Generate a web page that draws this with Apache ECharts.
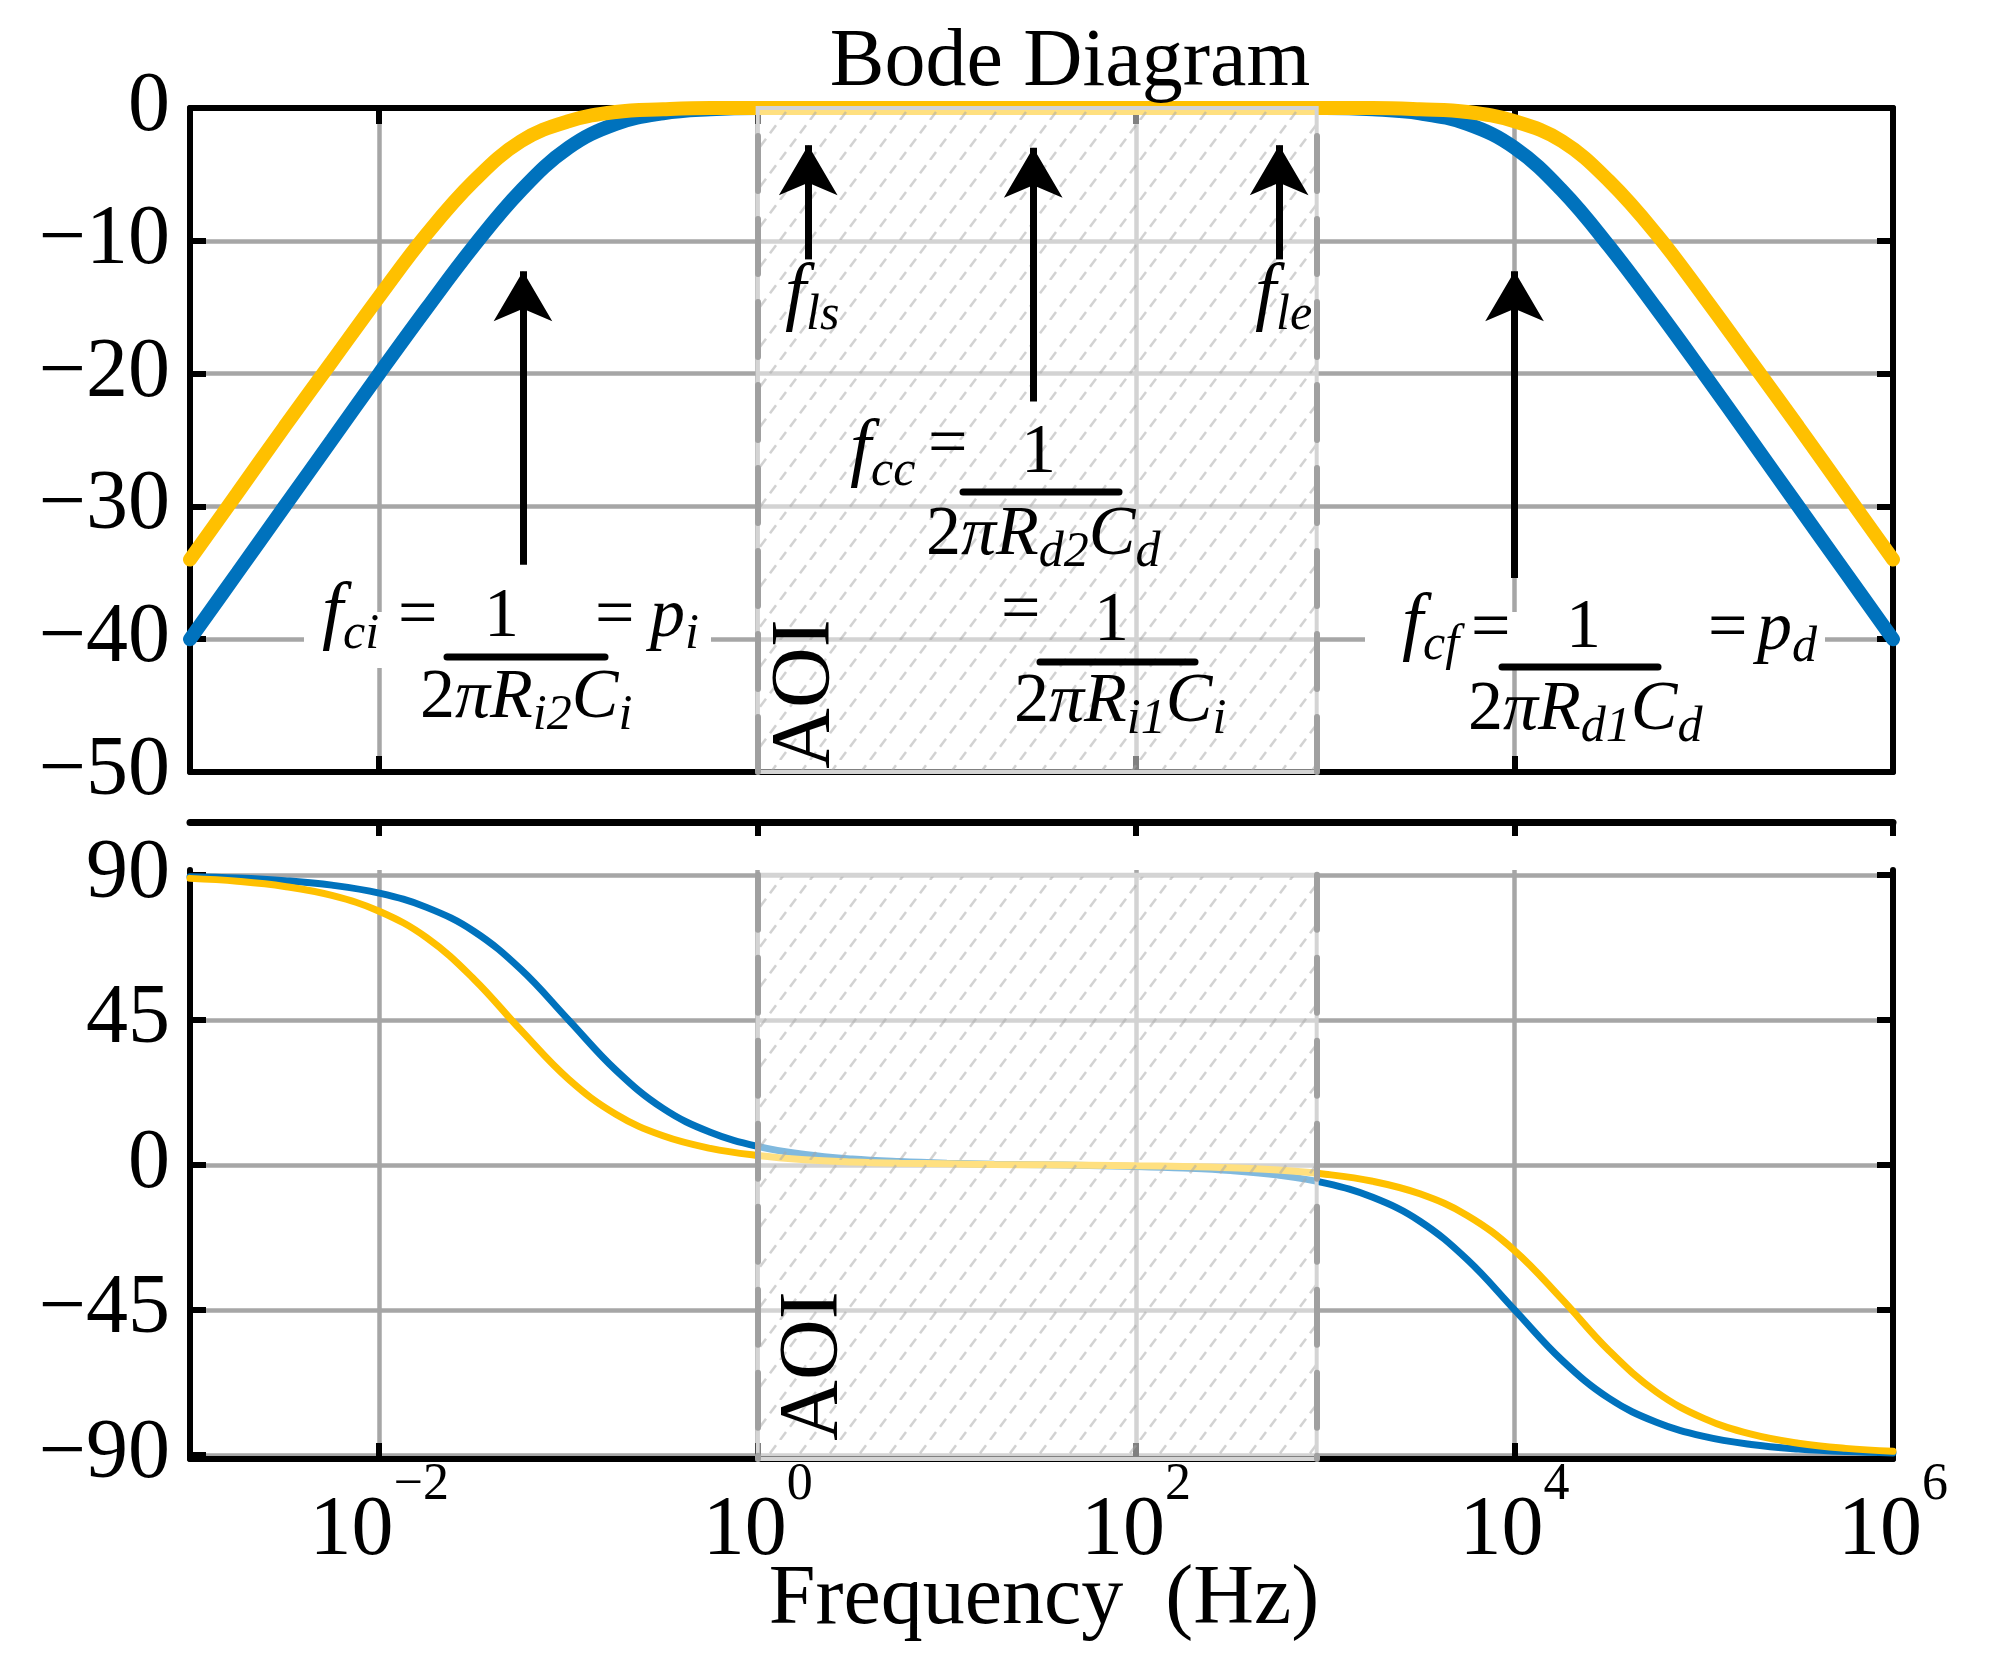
<!DOCTYPE html>
<html lang="en">
<head>
<meta charset="utf-8">
<title>Bode Diagram</title>
<script src="https://cdn.jsdelivr.net/npm/echarts@6/dist/echarts.min.js"></script>
</head>
<body style="margin:0;background:#fff;">
<div id="main" style="width:1999px;height:1676px;"></div>
<script type="text/javascript">
// frequency samples in Hz, a quarter decade apart
const freq = [0.001, 0.00178, 0.00316, 0.00562, 0.01, 0.0178, 0.0316, 0.0562, 0.1, 0.178, 0.316, 0.562,
    1, 1.78, 3.16, 5.62, 10, 17.8, 31.6, 56.2, 100, 178, 316, 562, 1000, 1780, 3160, 5620,
    10000, 17800, 31600, 56200, 100000, 178000, 316000, 562000, 1000000];
// magnitude (dB)
const magBlue = [-40.0, -35.0, -30.0, -25.0, -20.0, -15.1, -10.4, -6.2, -3.0, -1.2, -0.4, -0.1,
    0, 0, 0, 0, 0, 0, 0, 0, 0, 0, 0, 0, 0,
    -0.1, -0.4, -1.2, -3.0, -6.2, -10.4, -15.1, -20.0, -25.0, -30.0, -35.0, -40.0];
const magYellow = [-34.0, -29.0, -24.0, -19.1, -14.2, -9.5, -5.5, -2.5, -1.0, -0.3, -0.1,
    0, 0, 0, 0, 0, 0, 0, 0, 0, 0, 0, 0, 0, 0, 0,
    -0.1, -0.3, -1.0, -2.5, -5.5, -9.5, -14.2, -19.1, -24.0, -29.0, -34.0];
// phase (deg)
const phaseBlue = [89.4, 89.0, 88.2, 86.8, 84.3, 79.9, 72.5, 60.6, 45.0, 29.4, 17.5, 10.1,
    5.7, 3.2, 1.8, 1.0, 0.5, 0.2, 0.0, -0.2, -0.5, -1.0, -1.8, -3.2, -5.7,
    -10.1, -17.5, -29.4, -45.0, -60.6, -72.5, -79.9, -84.3, -86.8, -88.2, -89.0, -89.4];
const phaseYellow = [88.9, 88.0, 86.4, 83.6, 78.7, 70.5, 57.7, 41.7, 26.6, 15.7, 9.0, 5.1,
    2.9, 1.6, 0.9, 0.5, 0.3, 0.1, 0.0, -0.1, -0.3, -0.5, -0.9, -1.6, -2.9,
    -5.1, -9.0, -15.7, -26.6, -41.7, -57.7, -70.5, -78.7, -83.6, -86.4, -88.0, -88.9];

const decadeTicks = [0.01, 1, 100, 10000, 1000000];
const phaseTicks = [-90, -45, 0, 45, 90];
const aoiBand = [1, 900];
// arrows: frequency, tail dB, tip dB
const arrows = [[0.0575, -34.4, -12.3], [1.85, -11.4, -2.8], [28.6, -22.1, -3.0], [570, -11.4, -2.8], [10000, -35.4, -12.3]];

const SERIF = "'Liberation Serif', 'Times New Roman', serif";
const BLUE = '#0072BD', YELLOW = '#FFC000';

function minus(v) { return v < 0 ? '\u2212' + (-v) : String(v); }

function hatch() {
    const c = document.createElement('canvas');
    c.width = 30; c.height = 40;
    const g = c.getContext('2d');
    g.fillStyle = 'rgba(255,255,255,0.5)';
    g.fillRect(0, 0, 30, 40);
    g.strokeStyle = 'rgba(165,165,165,0.5)';
    g.lineWidth = 2.5;
    g.setLineDash([10, 6.67]);
    [-30, 0, 30].forEach(function (o) {
        g.beginPath(); g.moveTo(o, 40); g.lineTo(o + 30, 0); g.stroke();
    });
    return c;
}
const aoiFill = { image: hatch(), repeat: 'repeat' };

const RICH = {
    F: { fontSize: 76, fontStyle: 'italic', fontFamily: SERIF, lineHeight: 76, padding: [0, 0, 7, 0], verticalAlign: 'bottom' },
    m: { fontSize: 70, fontFamily: SERIF, lineHeight: 70, padding: [0, 0, 7, 0], verticalAlign: 'bottom' },
    mi: { fontSize: 70, fontStyle: 'italic', fontFamily: SERIF, lineHeight: 70, padding: [0, 0, 7, 0], verticalAlign: 'bottom' },
    s: { fontSize: 50, fontStyle: 'italic', fontFamily: SERIF, lineHeight: 50, verticalAlign: 'bottom' }
};
function txt(s, x, base) {
    return { type: 'text', z: 100, style: { text: s, rich: RICH, x: x, y: base + 21, align: 'left', verticalAlign: 'bottom', fill: '#000' } };
}
function bar(x1, x2, y) {
    return { type: 'line', z: 100, shape: { x1: x1, y1: y, x2: x2, y2: y }, style: { stroke: '#000', lineWidth: 7, lineCap: 'round' } };
}
function box(x, y, w, h) {
    return { type: 'rect', z: 1, shape: { x: x, y: y, width: w, height: h }, style: { fill: '#fff' } };
}
function plain(s, x, y, size, rot) {
    return { type: 'text', z: 100, x: x, y: y, rotation: rot || 0,
        style: { text: s, x: 0, y: 0, fontSize: size, fontFamily: SERIF, align: 'center', verticalAlign: 'middle', fill: '#000' } };
}

const line6 = { color: '#000', width: 6 };
const gridLine = { color: '#a6a6a6', width: 4.5 };

function logAxis(grid, pos, extra) {
    return Object.assign({
        type: 'log', logBase: 10, gridIndex: grid, position: pos, min: 0.001, max: 1000000,
        axisLine: { onZero: false, lineStyle: line6 },
        axisTick: { inside: true, length: 16, lineStyle: line6, customValues: decadeTicks },
        axisLabel: { show: false },
        splitLine: { show: false }
    }, extra);
}

const xLabel = {
    show: true, margin: 0, customValues: decadeTicks,
    formatter: function (v) { return '{b|10}{s|' + minus(Math.round(Math.log10(v))) + '}'; },
    rich: {
        b: { fontSize: 84, fontFamily: SERIF, lineHeight: 84, padding: [31, 0, 0, 0], verticalAlign: 'top', color: '#000' },
        s: { fontSize: 52, fontFamily: SERIF, lineHeight: 52, verticalAlign: 'top', color: '#000' }
    }
};
const yLabelStyle = { fontSize: 84, fontFamily: SERIF, color: '#000', margin: 20, formatter: minus };

const option = {
    animation: false,
    backgroundColor: '#fff',
    grid: [
        { left: 190, right: 106, top: 108, height: 664 },
        { left: 190, right: 106, top: 822, height: 48 },
        { left: 190, right: 106, top: 870, height: 589 }
    ],
    xAxis: [
        logAxis(0, 'bottom', { splitLine: { show: true, lineStyle: gridLine } }),
        logAxis(0, 'top'),
        logAxis(1, 'top', { axisLine: { onZero: false, lineStyle: { color: '#000', width: 7 } },
            axisTick: { inside: true, length: 14, lineStyle: line6, customValues: decadeTicks } }),
        logAxis(2, 'bottom', { axisLabel: xLabel, splitLine: { show: true, lineStyle: gridLine } })
    ],
    yAxis: [
        { type: 'value', gridIndex: 0, position: 'left', min: -50, max: 0, interval: 10,
          axisLine: { show: true, onZero: false, lineStyle: line6 },
          axisTick: { show: true, inside: true, length: 16, lineStyle: line6 },
          axisLabel: yLabelStyle, splitLine: { show: true, lineStyle: gridLine } },
        { type: 'value', gridIndex: 0, position: 'right', min: -50, max: 0, interval: 10,
          axisLine: { show: true, onZero: false, lineStyle: line6 },
          axisTick: { show: true, inside: true, length: 16, lineStyle: line6 },
          axisLabel: { show: false }, splitLine: { show: false } },
        { type: 'value', gridIndex: 1, min: 0, max: 1, show: false },
        { type: 'value', gridIndex: 2, position: 'left', min: -91.3, max: 91.5,
          axisLine: { show: true, onZero: false, lineStyle: line6 },
          axisTick: { show: true, inside: true, length: 16, lineStyle: line6, customValues: phaseTicks },
          axisLabel: Object.assign({ customValues: phaseTicks }, yLabelStyle),
          splitLine: { show: true, lineStyle: gridLine } },
        { type: 'value', gridIndex: 2, position: 'right', min: -91.3, max: 91.5,
          axisLine: { show: true, onZero: false, lineStyle: line6 },
          axisTick: { show: true, inside: true, length: 16, lineStyle: line6, customValues: phaseTicks },
          axisLabel: { show: false }, splitLine: { show: false } }
    ],
    series: [
        { type: 'line', name: 'mag1', xAxisIndex: 0, yAxisIndex: 0, data: freq.map((f, i) => [f, magBlue[i]]),
          smooth: 0.4, symbol: 'none', clip: false, lineStyle: { color: BLUE, width: 14, cap: 'round' }, z: 2 },
        { type: 'line', name: 'mag2', xAxisIndex: 0, yAxisIndex: 0, data: freq.map((f, i) => [f, magYellow[i]]),
          smooth: 0.4, symbol: 'none', clip: false, lineStyle: { color: YELLOW, width: 14, cap: 'round' }, z: 2 },
        { type: 'line', name: 'ph1', xAxisIndex: 3, yAxisIndex: 3, data: freq.map((f, i) => [f, phaseBlue[i]]),
          smooth: 0.4, symbol: 'none', clip: false, lineStyle: { color: BLUE, width: 7, cap: 'round' }, z: 2 },
        { type: 'line', name: 'ph2', xAxisIndex: 3, yAxisIndex: 3, data: freq.map((f, i) => [f, phaseYellow[i]]),
          smooth: 0.4, symbol: 'none', clip: false, lineStyle: { color: YELLOW, width: 7, cap: 'round' }, z: 2 },
        // area of interest, upper plot
        { type: 'line', name: 'aoi1', xAxisIndex: 0, yAxisIndex: 0, data: [],
          markArea: { z: 10, silent: true, itemStyle: { color: aoiFill, borderColor: '#d4d4d4', borderWidth: 4 },
              data: [[{ xAxis: aoiBand[0] }, { xAxis: aoiBand[1] }]] },
          markLine: { z: 11, silent: true, symbol: 'none', label: { show: false },
              lineStyle: { color: '#a0a0a0', width: 6, type: [55, 28], cap: 'round' },
              data: [{ xAxis: aoiBand[0] }, { xAxis: aoiBand[1] }] } },
        // area of interest, lower plot
        { type: 'line', name: 'aoi2', xAxisIndex: 3, yAxisIndex: 3, data: [],
          markArea: { z: 10, silent: true, itemStyle: { color: aoiFill, borderColor: '#d4d4d4', borderWidth: 4 },
              data: [[{ xAxis: aoiBand[0], yAxis: 90 }, { xAxis: aoiBand[1], yAxis: -91.3 }]] },
          markLine: { z: 11, silent: true, symbol: 'none', label: { show: false },
              lineStyle: { color: '#a0a0a0', width: 6, type: [55, 28], cap: 'round' },
              data: aoiBand.map(f => [{ coord: [f, 90] }, { coord: [f, -91.3] }]) } },
        // annotation arrows
        { type: 'line', name: 'arrows', xAxisIndex: 0, yAxisIndex: 0, data: [],
          markLine: { z: 12, silent: true, symbol: ['none', 'arrow'], symbolSize: [44, 50], label: { show: false },
              lineStyle: { color: '#000', width: 7, type: 'solid' },
              data: arrows.map(a => [{ coord: [a[0], a[1]] }, { coord: [a[0], a[2]] }]) } }
    ],
    graphic: [
        box(304, 612, 407, 56),
        box(1365, 612, 460, 56),
        plain('Bode Diagram', 1070, 63, 82),
        plain('Frequency  (Hz)', 1044, 1601, 84),
        plain('AOI', 807, 694, 84, Math.PI / 2),
        plain('AOI', 815, 1366, 84, Math.PI / 2),
        // f_ci
        txt('{F|f}{s|ci}', 322, 639), txt('{m|=}', 398, 639), txt('{m|1}', 484, 639), bar(447, 605, 657),
        txt('{m|=}', 595, 639), txt('{mi|p}{s|i}', 650, 639),
        txt('{m|2}{mi|\u03c0R}{s|i2}{mi|C}{s|i}', 420, 720),
        // f_ls, f_le
        txt('{F|f}{s|ls}', 785, 320), txt('{F|f}{s|le}', 1255, 320),
        // f_cc
        txt('{F|f}{s|cc}', 850, 476), txt('{m|=}', 928, 468), txt('{m|1}', 1021, 475), bar(963, 1119, 492),
        txt('{m|2}{mi|\u03c0R}{s|d2}{mi|C}{s|d}', 926, 557),
        txt('{m|=}', 1001, 634), txt('{m|1}', 1094, 643), bar(1040, 1195, 662),
        txt('{m|2}{mi|\u03c0R}{s|i1}{mi|C}{s|i}', 1014, 724),
        // f_cf
        txt('{F|f}{s|cf}', 1402, 650), txt('{m|=}', 1471, 652), txt('{m|1}', 1566, 650), bar(1502, 1658, 667),
        txt('{m|=}', 1708, 652), txt('{mi|p}{s|d}', 1757, 652),
        txt('{m|2}{mi|\u03c0R}{s|d1}{mi|C}{s|d}', 1468, 732)
    ]
};

const chart = echarts.init(document.getElementById('main'));
chart.setOption(option);
</script>
</body>
</html>
